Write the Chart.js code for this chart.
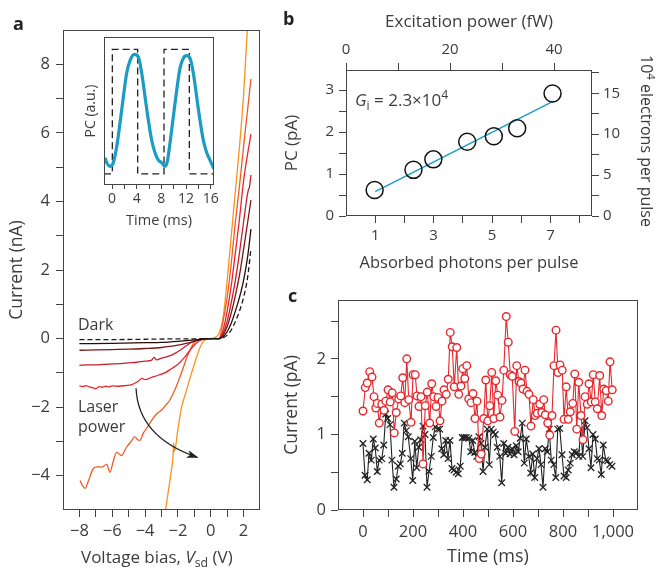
<!DOCTYPE html>
<html>
<head>
<meta charset="utf-8">
<script src="https://cdn.jsdelivr.net/npm/chart.js@4.4.0/dist/chart.umd.min.js"></script>
<style>
  body { margin: 0; background: #fff; }
  #fig { position: relative; width: 656px; height: 568px; overflow: hidden; font-family: 'Open Sans', sans-serif; color: #3c3c3c; }
  #fig canvas { position: absolute; }
  .lbl { position: absolute; white-space: nowrap; line-height: 1; font-size: 16px; }
  .lbl sub, .lbl sup { font-size: 0.72em; line-height: 0; }
  .lbl sub { vertical-align: -0.3em; }
  .lbl sup { vertical-align: 0.55em; }
  .panel { font-weight: bold; font-size: 18px; color: #222; }
</style>
</head>
<body>
<div id="fig">
  <canvas id="chartA" width="280" height="568" style="left:0;top:0"></canvas>
  <canvas id="chartInset" width="145" height="200" style="left:80px;top:30px"></canvas>
  <canvas id="chartB" width="376" height="285" style="left:280px;top:0"></canvas>
  <canvas id="chartC" width="376" height="283" style="left:280px;top:285px"></canvas>

  <div class="lbl panel" style="left:13px;top:14px">a</div>
  <div class="lbl panel" style="left:283px;top:9px">b</div>
  <div class="lbl panel" style="left:288px;top:286px">c</div>
  <div class="lbl" style="left:78px;top:316px">Dark</div>
  <div class="lbl" style="left:78px;top:396px;line-height:20px">Laser<br>power</div>
  <div class="lbl" style="left:81px;top:548px;font-size:17px">Voltage bias, <i>V</i><sub>sd</sub> (V)</div>
  <div class="lbl" style="left:355px;top:91px;font-size:17px"><i>G</i><sub>i</sub> = 2.3×10<sup>4</sup></div>
  <div class="lbl" style="left:655px;top:55px;transform-origin:0 0;transform:rotate(90deg)">10<sup>4</sup> electrons per pulse</div>
</div>

<script>
// ---------- Panel a: I–V curves (V in volts, I in nA) ----------
const darkV = [-8, -6, -4, -2, -1, -0.5, 0, 0.5, 0.75, 1, 1.25, 1.5, 1.75, 2, 2.25, 2.45];
const darkI = [-0.03, -0.03, -0.02, -0.01, -0.01, 0, 0, 0, 0.02, 0.1, 0.25, 0.5, 0.8, 1.2, 1.8, 2.63];

const p1V = [-8, -6, -4, -3, -2, -1.5, -1, -0.6, -0.3, 0, 0.25, 0.5, 0.75, 1, 1.25, 1.5, 1.75, 2, 2.25, 2.45];
const p1I = [-0.15, -0.14, -0.12, -0.11, -0.08, -0.06, -0.04, -0.02, -0.01, 0, 0, 0, 0.05, 0.2, 0.45, 0.8, 1.2, 1.7, 2.4, 3.19];

const p2V = [-8, -7, -6, -5, -4, -3, -2.5, -2, -1.5, -1, -0.6, -0.3, 0, 0.25, 0.5, 0.75, 1, 1.25, 1.5, 1.75, 2, 2.25, 2.45];
const p2I = [-0.34, -0.33, -0.32, -0.31, -0.29, -0.26, -0.23, -0.19, -0.14, -0.08, -0.03, -0.01, 0, 0, 0, 0.1, 0.35, 0.75, 1.25, 1.85, 2.6, 3.4, 4.04];

const p3V = [-8, -7.5, -7, -6.5, -6, -5.5, -5, -4.5, -4, -3.6, -3.45, -3.3, -3, -2.6, -2.2, -1.8, -1.4, -1, -0.6, -0.3, 0, 0.25, 0.5, 0.75, 1, 1.25, 1.5, 1.75, 2, 2.2, 2.3, 2.35, 2.45];
const p3I = [-0.78, -0.77, -0.77, -0.75, -0.74, -0.73, -0.71, -0.69, -0.66, -0.63, -0.55, -0.62, -0.57, -0.52, -0.44, -0.32, -0.18, -0.07, -0.02, 0, 0, 0, 0, 0.15, 0.5, 1.05, 1.7, 2.5, 3.4, 4.1, 4.35, 4.4, 4.77];

const p4V = [-8, -7.8, -7.6, -7.4, -7.2, -7, -6.8, -6.6, -6.4, -6.2, -6, -5.6, -5.2, -4.8, -4.4, -4.2, -4, -3.6, -3.2, -2.8, -2.4, -2, -1.6, -1.2, -0.8, -0.5, -0.25, 0, 0.25, 0.5, 0.75, 1, 1.25, 1.5, 1.75, 2, 2.25, 2.45];
const p4I = [-1.38, -1.40, -1.37, -1.41, -1.43, -1.46, -1.40, -1.42, -1.39, -1.41, -1.38, -1.39, -1.37, -1.34, -1.24, -1.16, -1.20, -1.13, -1.07, -1.00, -0.88, -0.75, -0.55, -0.30, -0.10, -0.03, 0, 0, 0, 0, 0.25, 0.8, 1.55, 2.5, 3.5, 4.6, 5.4, 5.96];

const p5V = [-7.96, -7.8, -7.65, -7.45, -7.15, -6.9, -6.64, -6.34, -6.14, -5.95, -5.73, -5.55, -5.43, -5.13, -4.85, -4.62, -4.45, -4.32, -4.1, -3.92, -3.61, -3.3, -3, -2.75, -2.5, -2.2, -1.8, -1.4, -0.99, -0.6, 0, 0.25, 0.5, 0.75, 1, 1.25, 1.5, 1.75, 2, 2.25, 2.45];
const p5I = [-4.14, -4.3, -4.37, -4.15, -3.79, -3.74, -3.75, -3.67, -3.9, -3.6, -3.31, -3.38, -3.41, -3.17, -3.0, -2.87, -2.95, -2.97, -2.75, -2.63, -2.39, -2.2, -2.09, -1.95, -1.8, -1.51, -1.02, -0.49, -0.1, -0.01, 0, 0, 0, 0.5, 1.2, 2.2, 3.4, 4.45, 5.6, 6.7, 7.57];

const p6V = [-2.8, -2.6, -2.4, -2.3, -2.26, -2.22, -2, -1.8, -1.6, -1.4, -1.2, -1, -0.8, -0.6, -0.4, -0.2, 0, 0.25, 0.5, 0.75, 1, 1.25, 1.5, 1.75, 2, 2.25, 2.45];
const p6I = [-5.15, -4.5, -3.85, -3.45, -3.05, -3.3, -2.65, -2.05, -1.7, -1.38, -1.05, -0.75, -0.45, -0.2, -0.06, -0.01, 0, 0.03, 0.15, 0.6, 1.7, 3.0, 4.3, 5.6, 7.1, 9.2, 10.6];

const powerColors = ['#2a0c0c', '#7d1519', '#c4202b', '#e8252d', '#ef5b26', '#f7941e'];

const aXTicks = [-8, -7, -6, -5, -4, -3, -2, -1, 0, 1, 2];
const aXLabels = [-8, -6, -4, -2, 0, 2];
const aYTicks = [-4, -3, -2, -1, 0, 1, 2, 3, 4, 5, 6, 7, 8];
const aYLabels = [-4, -2, 0, 2, 4, 6, 8];

// "Laser power" arrow, in data units: start, control, end
const arrowPts = [[-4.55, -1.45], [-4.42, -2.87], [-0.85, -3.46]];

// ---------- Inset: photocurrent vs time ----------
const insetT = [-1.13, -0.86, -0.32, 0.21, 0.76, 1.3, 1.84, 2.38, 2.92, 3.62, 4.27, 4.81, 5.35, 5.89, 6.43, 6.97, 7.5, 8.05, 8.59, 8.97, 9.4, 9.94, 10.48, 11.02, 11.56, 12.1, 12.64, 13.18, 13.72, 14.26, 14.8, 15.35, 15.88, 16.5];
const insetPC = [0.13, 0.09, 0.06, 0.09, 0.22, 0.41, 0.62, 0.81, 0.91, 0.96, 0.94, 0.81, 0.62, 0.43, 0.27, 0.17, 0.11, 0.09, 0.06, 0.10, 0.25, 0.46, 0.67, 0.85, 0.93, 0.95, 0.93, 0.81, 0.62, 0.43, 0.27, 0.17, 0.11, 0.04];
const pulseT = [-1.3, 0.05, 0.05, 4.16, 4.16, 8.43, 8.43, 12.53, 12.53, 16.53];
const pulseLevel = [0, 0, 1, 1, 0, 0, 1, 1, 0, 0];
const insetXTicks = [0, 2, 4, 6, 8, 10, 12, 14, 16];
const insetXLabels = [0, 4, 8, 12, 16];

// ---------- Panel b: PC vs absorbed photons ----------
const photons = [0.98, 2.31, 2.99, 4.15, 5.06, 5.86, 7.07];
const pcValues = [0.62, 1.10, 1.35, 1.77, 1.90, 2.09, 2.92];
const fitX = [1, 7.1];
const fitY = [0.58, 2.74];
const bXTicks = [1, 2, 3, 4, 5, 6, 7, 8];
const bXLabels = [1, 3, 5, 7];
const bTopTicks = [0, 10, 20, 30, 40];
const bTopLabels = [0, 20, 40];
const bYTicks = [0, 0.5, 1, 1.5, 2, 2.5, 3];
const bYLabels = [0, 1, 2, 3];
const bY2Ticks = [0, 2.5, 5, 7.5, 10, 12.5, 15, 17.5];
const bY2Labels = [0, 5, 10, 15];

// ---------- Panel c: current vs time ----------
const redTime = [0,9,17,27,36,44,51,57,65,75,84,91,100,109,117,125,133,143,151,159,167,175,183,192,200,209,216,224,232,240,249,257,267,275,283,292,300,308,316,324,333,341,349,357,365,375,383,392,399,407,415,423,432,440,448,456,465,473,483,491,499,507,515,523,531,539,548,556,563,573,581,589,597,607,615,624,632,640,648,656,664,672,681,689,697,707,715,723,729,739,747,756,764,772,780,788,797,804,813,821,829,839,847,855,863,872,880,888,897,904,913,921,929,937,947,955,963,973,981,988,997];
const redCurrent = [1.31,1.62,1.68,1.83,1.76,1.50,1.35,1.41,1.15,1.40,1.32,1.44,1.59,1.43,1.55,1.02,1.29,1.47,1.51,1.75,1.42,2.00,1.46,1.16,1.79,1.79,1.51,1.37,1.50,0.61,1.38,1.56,1.15,1.67,1.50,1.37,1.49,1.18,1.44,1.59,1.53,1.73,2.35,2.16,1.63,2.15,1.53,1.64,1.87,1.74,1.91,1.47,1.42,1.54,1.21,1.44,0.68,0.74,1.21,1.72,1.18,1.38,1.82,1.21,1.71,1.52,1.23,1.45,1.85,2.56,2.22,1.79,1.77,1.04,1.91,1.70,1.68,1.60,1.85,1.57,1.53,1.11,1.46,1.25,1.28,1.40,1.29,1.46,1.26,1.15,0.99,1.25,1.91,2.38,1.82,1.92,1.85,1.20,1.63,1.20,1.30,1.41,1.80,1.07,1.69,1.25,0.93,1.50,1.40,1.67,1.43,1.79,1.43,1.34,1.78,1.25,1.60,1.58,1.44,1.96,1.59];
const blackTime = [0,8,17,24,33,41,49,57,65,75,83,91,99,108,116,124,133,141,149,157,165,173,181,191,199,207,215,223,231,240,248,256,264,273,281,289,299,307,315,323,331,340,348,356,364,373,381,389,397,405,413,423,431,439,447,455,464,472,480,488,497,505,513,521,529,537,547,555,563,571,580,588,596,604,613,621,629,637,645,653,663,671,679,687,696,704,712,720,729,737,745,753,763,771,779,787,796,804,813,821,829,837,845,855,863,871,879,888,896,904,912,920,929,937,945,953,961,971,979,987,996];
const blackCurrent = [0.88,0.46,0.40,0.75,0.66,0.94,0.82,0.51,0.66,0.68,0.86,1.27,1.21,1.13,0.66,0.30,0.41,0.58,0.61,0.75,1.15,1.05,0.97,0.68,0.39,0.91,0.56,0.83,0.93,1.11,1.00,0.30,0.51,0.71,0.96,1.10,1.07,1.07,0.81,0.73,0.92,0.68,0.92,0.55,0.53,0.50,0.48,0.58,0.96,0.96,0.96,0.95,0.77,0.92,0.76,0.71,0.97,0.88,0.51,0.83,1.07,0.60,1.07,1.03,1.00,0.83,0.71,0.36,0.88,0.75,0.83,0.74,0.81,0.73,0.85,0.77,0.95,1.15,0.62,0.94,0.71,0.49,0.74,0.43,0.68,0.81,0.60,0.30,0.81,0.77,1.07,0.66,0.60,0.43,1.07,1.08,0.73,0.45,0.43,0.53,0.62,0.73,0.77,0.76,0.71,1.07,0.71,1.18,1.09,0.81,0.56,1.00,0.94,0.68,0.66,0.47,0.86,0.66,0.65,0.60,0.58];
const cXTicks = [0, 100, 200, 300, 400, 500, 600, 700, 800, 900, 1000];
const cXLabels = [0, 200, 400, 600, 800, 1000];
const cYTicks = [0, 0.5, 1, 1.5, 2, 2.5];
const cYLabels = [0, 1, 2];

// ---------- helpers ----------
const FONT = "'Open Sans', sans-serif";
const TEXT = '#3c3c3c';
const AXIS = '#444';
const TEAL = '#1b9cc4';
const RED = '#e8262b';

const toPts = (xs, ys) => xs.map((x, i) => ({ x, y: ys[i] }));

function fmt(v) {
  if (v < 0) return '\u2212' + Math.abs(v);
  return v.toLocaleString('en-US');
}

function axis(o) {
  return {
    type: 'linear',
    position: o.position,
    min: o.min,
    max: o.max,
    afterBuildTicks: s => { s.ticks = (o.ticks || []).map(v => ({ value: v })); },
    afterFit: s => { if (s.isHorizontal()) s.height = o.size; else s.width = o.size; },
    grid: {
      display: !!o.ticks, drawOnChartArea: false, drawTicks: true,
      tickLength: o.tickLength || 7, color: AXIS, lineWidth: 1
    },
    border: { display: false },
    ticks: {
      display: !!o.ticks, autoSkip: false, maxRotation: 0, minRotation: 0,
      padding: o.pad ?? 4, color: TEXT,
      font: { family: FONT, size: o.fontSize || 15 },
      callback: v => (o.labels || []).includes(v) ? fmt(v) : ''
    },
    title: o.title ? {
      display: true, text: o.title, color: TEXT,
      font: { family: FONT, size: o.titleSize || 16 },
      padding: o.titlePad
    } : { display: false }
  };
}

const framePlugin = {
  id: 'frame',
  afterDraw(chart) {
    const { ctx, chartArea: a } = chart;
    const l = Math.round(a.left), t = Math.round(a.top);
    const r = Math.round(a.right), b = Math.round(a.bottom);
    ctx.save();
    ctx.strokeStyle = AXIS;
    ctx.lineWidth = 1;
    ctx.strokeRect(l + 0.5, t + 0.5, r - l - 1, b - t - 1);
    ctx.restore();
  }
};

const arrowPlugin = {
  id: 'arrow',
  afterDatasetsDraw(chart) {
    const { ctx, scales: { x, y } } = chart;
    const [p0, c, p1] = arrowPts.map(([vx, vy]) => [x.getPixelForValue(vx), y.getPixelForValue(vy)]);
    ctx.save();
    ctx.strokeStyle = '#222';
    ctx.fillStyle = '#222';
    ctx.lineWidth = 1.3;
    ctx.beginPath();
    ctx.moveTo(p0[0], p0[1]);
    ctx.quadraticCurveTo(c[0], c[1], p1[0], p1[1]);
    ctx.stroke();
    // arrow head along the end tangent
    const ang = Math.atan2(p1[1] - c[1], p1[0] - c[0]);
    const len = 10, half = 4;
    ctx.translate(p1[0], p1[1]);
    ctx.rotate(ang);
    ctx.beginPath();
    ctx.moveTo(2, 0);
    ctx.lineTo(-len, -half);
    ctx.lineTo(-len + 3, 0);
    ctx.lineTo(-len, half);
    ctx.closePath();
    ctx.fill();
    ctx.restore();
  }
};

const lineSet = (xs, ys, color, extra) => Object.assign({
  data: toPts(xs, ys), showLine: true, borderColor: color, borderWidth: 1.3,
  pointRadius: 0, cubicInterpolationMode: 'monotone'
}, extra || {});

const base = {
  responsive: false,
  animation: false,
  events: [],
  plugins: { legend: { display: false }, tooltip: { enabled: false } }
};

// ---------- Panel a ----------
new Chart(document.getElementById('chartA'), {
  type: 'scatter',
  data: {
    datasets: [
      lineSet(darkV, darkI, '#1a1a1a', { borderDash: [5, 3] }),
      lineSet(p1V, p1I, powerColors[0]),
      lineSet(p2V, p2I, powerColors[1]),
      lineSet(p3V, p3I, powerColors[2]),
      lineSet(p4V, p4I, powerColors[3]),
      lineSet(p5V, p5I, powerColors[4]),
      lineSet(p6V, p6I, powerColors[5])
    ]
  },
  options: Object.assign({}, base, {
    layout: { padding: { top: 30, right: 20, left: 0, bottom: 0 } },
    scales: {
      x: axis({ position: 'bottom', min: -9, max: 3, ticks: aXTicks, labels: aXLabels, size: 58, pad: 4, fontSize: 16.5 }),
      y: axis({ position: 'left', min: -5, max: 9, ticks: aYTicks, labels: aYLabels, size: 63, pad: 6, fontSize: 16.5,
                title: 'Current (nA)', titleSize: 17.5, titlePad: { top: 7, bottom: 0 } })
    }
  }),
  plugins: [framePlugin, arrowPlugin]
});

// ---------- Inset ----------
new Chart(document.getElementById('chartInset'), {
  type: 'scatter',
  data: {
    datasets: [
      lineSet(insetT, insetPC, TEAL, { borderWidth: 3.2 }),
      lineSet(pulseT, pulseLevel, '#222', { borderDash: [7, 4], cubicInterpolationMode: 'default', tension: 0 })
    ]
  },
  options: Object.assign({}, base, {
    layout: { padding: { top: 7, right: 11, left: 0, bottom: 0 } },
    scales: {
      x: axis({ position: 'bottom', min: -1.3, max: 16.53, ticks: insetXTicks, labels: insetXLabels, size: 45,
                tickLength: 4, pad: 2, fontSize: 14, title: 'Time (ms)', titleSize: 14.5, titlePad: { top: 0, bottom: 0 } }),
      y: axis({ position: 'left', min: -0.09, max: 1.1, size: 24,
                title: 'PC (a.u.)', titleSize: 14, titlePad: { top: 3, bottom: 0 } })
    }
  }),
  plugins: [framePlugin]
});

// ---------- Panel b ----------
new Chart(document.getElementById('chartB'), {
  type: 'scatter',
  data: {
    datasets: [
      { data: toPts(photons, pcValues), pointRadius: 8.5, pointBorderWidth: 1.5,
        pointBorderColor: '#111', pointBackgroundColor: 'rgba(0,0,0,0)', showLine: false },
      lineSet(fitX, fitY, TEAL, { borderWidth: 1.5, cubicInterpolationMode: 'default' })
    ]
  },
  options: Object.assign({}, base, {
    layout: { padding: 0 },
    scales: {
      x: axis({ position: 'bottom', min: 0, max: 8.42, ticks: bXTicks, labels: bXLabels, size: 69, pad: 4,
                fontSize: 15, title: 'Absorbed photons per pulse', titleSize: 16.5, titlePad: { top: 0, bottom: 12 } }),
      x2: axis({ position: 'top', min: 0, max: 47.3, ticks: bTopTicks, labels: bTopLabels, size: 70, pad: 4,
                 fontSize: 15, title: 'Excitation power (fW)', titleSize: 17, titlePad: { top: 11.8, bottom: 0 } }),
      y: axis({ position: 'left', min: 0, max: 3.48, ticks: bYTicks, labels: bYLabels, size: 66, pad: 5,
                fontSize: 15, title: 'PC (pA)', titleSize: 17, titlePad: { top: 1.8, bottom: 0 } }),
      y2: axis({ position: 'right', min: 0, max: 17.85, ticks: bY2Ticks, labels: bY2Labels, size: 64, pad: 4,
                 fontSize: 15 })
    }
  }),
  plugins: [framePlugin]
});

// ---------- Panel c ----------
new Chart(document.getElementById('chartC'), {
  type: 'scatter',
  data: {
    datasets: [
      { data: toPts(redTime, redCurrent), showLine: true, borderColor: RED, borderWidth: 1.1,
        pointRadius: 3.8, pointBorderWidth: 1.4, pointBorderColor: RED, pointBackgroundColor: '#fff' },
      { data: toPts(blackTime, blackCurrent), showLine: true, borderColor: '#222', borderWidth: 1.1,
        pointStyle: 'crossRot', pointRadius: 4.6, pointBorderWidth: 1.3, pointBorderColor: '#222' }
    ]
  },
  options: Object.assign({}, base, {
    layout: { padding: { top: 8, right: 18, left: 0, bottom: 0 } },
    scales: {
      x: axis({ position: 'bottom', min: -100, max: 1100, ticks: cXTicks, labels: cXLabels, size: 58, pad: 5,
                fontSize: 16.5, title: 'Time (ms)', titleSize: 18, titlePad: { top: 0, bottom: 0.2 } }),
      y: axis({ position: 'left', min: 0, max: 2.78, ticks: cYTicks, labels: cYLabels, size: 58, pad: 5,
                fontSize: 16.5, title: 'Current (pA)', titleSize: 17.5, titlePad: { top: 1.2, bottom: 0 } })
    }
  }),
  plugins: [framePlugin]
});
</script>
</body>
</html>
